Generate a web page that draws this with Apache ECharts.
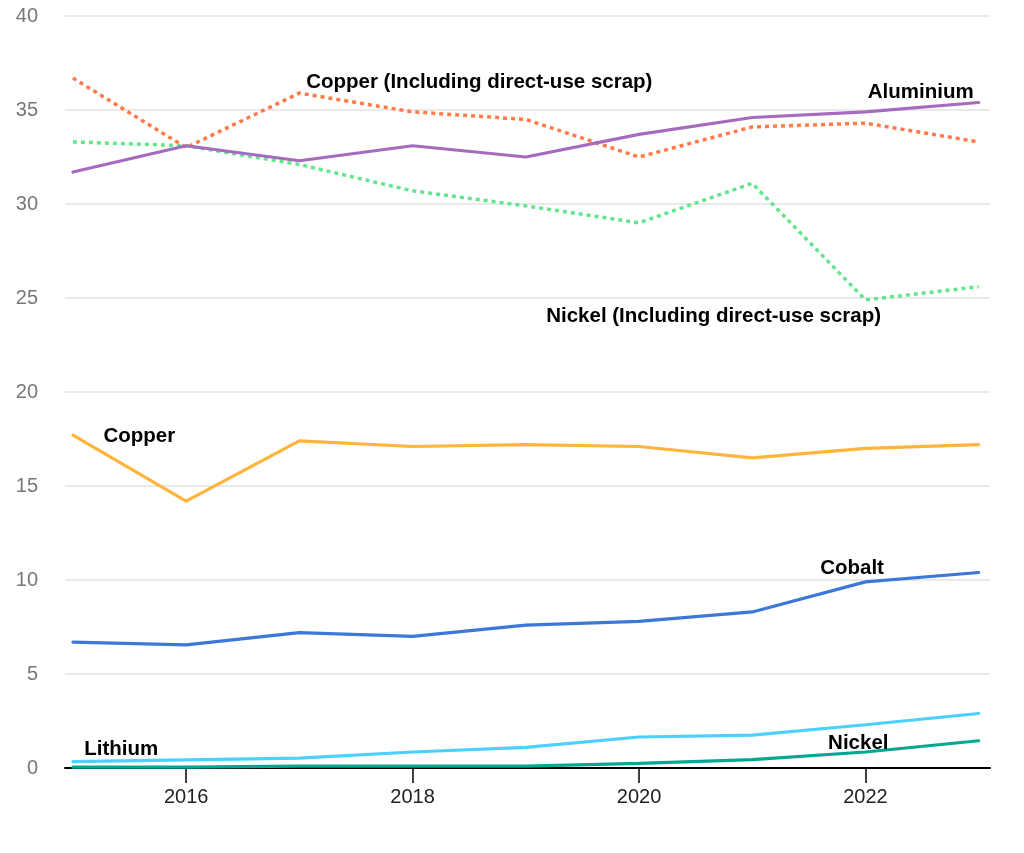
<!DOCTYPE html>
<html>
<head>
<meta charset="utf-8">
<script src="https://cdn.jsdelivr.net/npm/echarts@6/dist/echarts.min.js"></script>
<style>
html,body{margin:0;padding:0;background:#fff;}
#chart{width:1024px;height:853px;}
</style>
</head>
<body>
<div id="chart"></div>
<script>
// years on the x axis
var years = [2015, 2016, 2017, 2018, 2019, 2020, 2021, 2022, 2023];
var xTicks = [2016, 2018, 2020, 2022];
// values
var aluminium   = [31.7, 33.1, 32.3, 33.1, 32.5, 33.7, 34.6, 34.9, 35.4];
var copperScrap = [36.7, 33.0, 35.9, 34.9, 34.5, 32.5, 34.1, 34.3, 33.3];
var nickelScrap = [33.3, 33.1, 32.1, 30.7, 29.9, 29.0, 31.1, 24.9, 25.6];
var copper      = [17.7, 14.2, 17.4, 17.1, 17.2, 17.1, 16.5, 17.0, 17.2];
var cobalt      = [6.7, 6.55, 7.2, 7.0, 7.6, 7.8, 8.3, 9.9, 10.4];
var lithium     = [0.34, 0.43, 0.53, 0.85, 1.1, 1.65, 1.75, 2.3, 2.9];
var nickel      = [0.05, 0.05, 0.1, 0.1, 0.1, 0.25, 0.45, 0.85, 1.45];

var font = 'Liberation Sans, Arial, sans-serif';

function pairs(arr){
    var out=[];
    for(var i=0;i<years.length;i++){
        out.push([years[i],arr[i]]);
    }
    return out;
}
//线条名称标注
function tag(text,x,y){
    return {
        symbol:'circle',
        symbolSize:0,
        silent:true,
        animation:false,
        data:[{
            coord:[x,y],
            itemStyle:{color:'transparent'},
            label:{
                show:true,
                position:'right',
                distance:0,
                formatter:text,
                color:'#000',
                fontWeight:'bold',
                fontSize:20.5,
                fontFamily:font
            }
        }]
    };
}
function line(name,arr,color,dotted,mark){
    return {
        name:name,
        type:'line',
        data:pairs(arr),
        symbol:'none',
        smooth:false,
        animation:false,
        lineStyle:{
            color:color,
            width:dotted?3.5:3.2,
            type:dotted?[4,4]:'solid',
            cap:dotted?'butt':'round'
        },
        markPoint:mark
    };
}

var chart = echarts.init(document.getElementById('chart'));
var option = {
    backgroundColor:'#fff',
    grid:{left:65,right:34,top:16,bottom:85},
    xAxis:{
        type:'value',
        min:2014.93,
        max:2023.1,
        splitLine:{show:false},
        axisLine:{show:true,lineStyle:{color:'#000',width:2}},
        axisTick:{show:true,customValues:xTicks,length:15,lineStyle:{color:'#000',width:1.5}},
        axisLabel:{
            customValues:xTicks,
            color:'#222',
            fontSize:20,
            fontFamily:font,
            margin:19,
            formatter:function(v){return String(v);}
        }
    },
    yAxis:{
        type:'value',
        min:0,
        max:40,
        interval:5,
        axisLine:{show:false},
        axisTick:{show:false},
        axisLabel:{color:'#777',fontSize:20,fontFamily:font,margin:27},
        splitLine:{lineStyle:{color:'#e3e3e3',width:1.5}}
    },
    series:[
        line('Nickel (Including direct-use scrap)',nickelScrap,'#62e58b',true,tag('Nickel (Including direct-use scrap)',2019.18,24.0)),
        line('Copper (Including direct-use scrap)',copperScrap,'#ff7a48',true,tag('Copper (Including direct-use scrap)',2017.06,36.45)),
        line('Aluminium',aluminium,'#a66bbe',false,tag('Aluminium',2022.02,35.96)),
        line('Copper',copper,'#ffb43c',false,tag('Copper',2015.27,17.62)),
        line('Cobalt',cobalt,'#3c78d8',false,tag('Cobalt',2021.60,10.64)),
        line('Lithium',lithium,'#4dd0fd',false,tag('Lithium',2015.10,0.99)),
        line('Nickel',nickel,'#00a891',false,tag('Nickel',2021.67,1.31))
    ]
};
chart.setOption(option);
</script>
</body>
</html>
